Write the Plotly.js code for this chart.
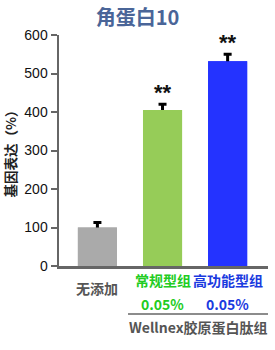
<!DOCTYPE html>
<html><head><meta charset="utf-8">
<script src="https://cdn.plot.ly/plotly-3.0.1.min.js"></script>
<style>body{margin:0;background:#fff}#c{width:275px;height:350px}</style>
</head><body><div id="c"></div>
<script>
const categories = ['无添加', '常规型组', '高功能型组'];
const values = [100, 405, 532];
const errors = [13, 15, 18];
const signif = ['', '**', '**'];
const concLabels = ['', '0.05%', '0.05%'];
const groupLabel = 'Wellnex胶原蛋白肽组';
const colors = ['#aaaaaa', '#96cc58', '#2433ff'];
const labelColors = ['#555555', '#22cc22', '#1a3adf'];
const cjk = '"Noto Sans CJK SC", sans-serif';
const xs = categories.map((c, i) => i);

const errTrace = {
  type: 'bar', x: xs, y: values, width: 0.6,
  marker: {color: colors},
  error_y: {type: 'data', array: errors, color: '#000', thickness: 3, width: 4},
  hoverinfo: 'none'
};
const barTrace = {
  type: 'bar', x: xs, y: values, width: 0.6,
  marker: {color: colors}, hoverinfo: 'none'
};
const ann = [];
categories.forEach((c, i) => {
  if (signif[i]) ann.push({x: i, y: values[i] + errors[i], xref: 'x', yref: 'y', text: '<b>' + signif[i] + '</b>', showarrow: false, yanchor: 'bottom', yshift: -3, font: {size: 22, color: '#111', family: 'Liberation Sans, Arial'}});
  ann.push({x: i, y: 0, xref: 'x', yref: 'paper', text: '<b>' + c + '</b>', showarrow: false, yanchor: 'middle', yshift: i === 0 ? -22 : -14, font: {size: 14, color: labelColors[i], family: cjk}});
  if (concLabels[i]) ann.push({x: i, y: 0, xref: 'x', yref: 'paper', text: concLabels[i], showarrow: false, yanchor: 'middle', yshift: -38, font: {size: 14, color: labelColors[i], family: cjk, weight: 600}});
});
ann.push({x: 1.55, y: 0, xref: 'x', yref: 'paper', text: '<b>' + groupLabel + '</b>', showarrow: false, yanchor: 'middle', yshift: -61, font: {size: 14, color: '#555555', family: cjk}});

const layout = {
  width: 275, height: 350,
  margin: {l: 59, r: 7, t: 35, b: 84},
  paper_bgcolor: '#fff', plot_bgcolor: '#fff',
  barmode: 'overlay',
  title: {text: '<b>角蛋白10</b>', x: 0.5, xref: 'container', y: 0.95, yanchor: 'middle', font: {size: 20, color: '#4a6598', family: cjk}},
  showlegend: false,
  xaxis: {range: [-0.59, 2.62], showticklabels: false, ticks: '', showgrid: false, zeroline: false, showline: true, linecolor: '#666', linewidth: 2.5, fixedrange: true},
  yaxis: {range: [0, 600], dtick: 100, ticks: 'outside', ticklen: 6, tickwidth: 2, tickcolor: '#666', showgrid: false, zeroline: false, showline: true, linecolor: '#666', linewidth: 2.5,
    tickfont: {size: 14, color: '#111', family: 'Liberation Sans, Arial'},
    title: {text: '<b>基因表达（%）</b>', standoff: 10, font: {size: 13.5, color: '#222', family: cjk}}},
  annotations: ann,
  shapes: [{type: 'line', xref: 'x', yref: 'paper', x0: 0.47, x1: 2.62, y0: -0.208, y1: -0.208, line: {color: '#666', width: 1.5}}]
};
Plotly.newPlot('c', [errTrace, barTrace], layout, {staticPlot: true});
</script></body></html>
